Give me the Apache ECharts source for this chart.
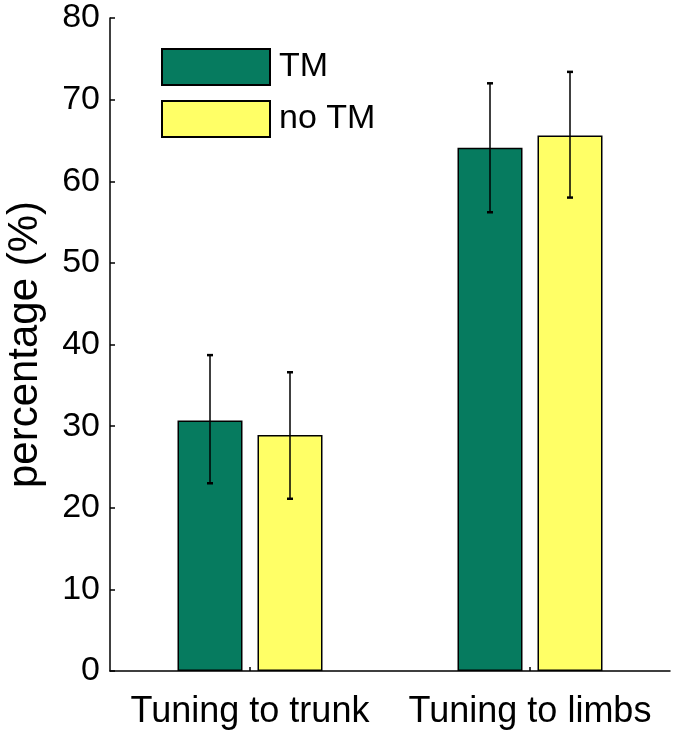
<!DOCTYPE html>
<html>
<head>
<meta charset="utf-8">
<script src="https://cdn.jsdelivr.net/npm/echarts@6/dist/echarts.min.js"></script>
<style>html,body{margin:0;padding:0;background:#fff}#c{width:675px;height:735px}</style>
</head>
<body>
<div id="c"></div>
<script>
// ---- data ----
var categories = ['Tuning to trunk', 'Tuning to limbs'];
var seriesNames = ['TM', 'no TM'];
var tmValues = [30.7, 64.1];
var noTmValues = [28.9, 65.6];
var tmLow = [23.0, 56.2];
var tmHigh = [38.7, 72.0];
var noTmLow = [21.1, 58.0];
var noTmHigh = [36.6, 73.4];
var yTicks = [0, 10, 20, 30, 40, 50, 60, 70, 80];

// ---- style ----
var FONT = 'Liberation Sans, Arial, sans-serif';
var GREEN = '#067b5f';
var YELLOW = '#ffff66';
var BAR_W = 65;
var BAR_GAP = 15;

function errSeries(low, high, sign) {
  var data = low.map(function (l, i) { return [i, l, high[i]]; });
  return {
    type: 'custom',
    data: data,
    encode: { x: 0, y: [1, 2] },
    z: 5,
    silent: true,
    renderItem: function (params, api) {
      var off = sign * (BAR_W + BAR_GAP) / 2;
      var pLow = api.coord([api.value(0), api.value(1)]);
      var pHigh = api.coord([api.value(0), api.value(2)]);
      var x = pLow[0] + off;
      var cap = 3;
      var st = { stroke: '#000', lineWidth: 1.5 };
      return {
        type: 'group',
        children: [
          { type: 'line', shape: { x1: x, y1: pLow[1], x2: x, y2: pHigh[1] }, style: st },
          { type: 'line', shape: { x1: x - cap, y1: pLow[1], x2: x + cap, y2: pLow[1] }, style: { stroke: '#000', lineWidth: 2.5 } },
          { type: 'line', shape: { x1: x - cap, y1: pHigh[1], x2: x + cap, y2: pHigh[1] }, style: { stroke: '#000', lineWidth: 2.5 } }
        ]
      };
    }
  };
}

var chart = echarts.init(document.getElementById('c'), null, { renderer: 'canvas' });
chart.setOption({
  backgroundColor: '#fff',
  animation: false,
  textStyle: { fontFamily: FONT },
  grid: { left: 110, right: 5, top: 18, bottom: 64, containLabel: false, outerBoundsMode: 'none' },
  legend: {
    data: seriesNames,
    orient: 'vertical',
    left: 161,
    top: 48,
    padding: 0,
    itemWidth: 108,
    itemHeight: 36,
    itemGap: 14,
    icon: 'rect',
    textStyle: { fontSize: 34, color: '#000', fontFamily: FONT, padding: [0, 0, 0, 4] }
  },
  xAxis: {
    type: 'category',
    data: categories,
    axisLine: { lineStyle: { color: '#000', width: 1.5 } },
    axisTick: { show: true, inside: true, length: 4, alignWithLabel: true, lineStyle: { color: '#000', width: 1.5 } },
    axisLabel: { fontSize: 36, color: '#000', fontFamily: FONT, margin: 23, interval: 0 },
    splitLine: { show: false }
  },
  yAxis: {
    type: 'value',
    min: yTicks[0],
    max: yTicks[yTicks.length - 1],
    interval: yTicks[1] - yTicks[0],
    name: 'percentage (%)',
    nameLocation: 'middle',
    nameGap: 64,
    nameTextStyle: { fontSize: 42, color: '#000', fontFamily: FONT },
    axisLine: { show: true, lineStyle: { color: '#000', width: 1.5 } },
    axisTick: { show: true, inside: true, length: 5, lineStyle: { color: '#000', width: 1.5 } },
    axisLabel: { fontSize: 34, color: '#000', fontFamily: FONT, margin: 10 },
    splitLine: { show: false }
  },
  series: [
    {
      name: seriesNames[0], type: 'bar', data: tmValues,
      barWidth: BAR_W, barGap: (BAR_GAP / BAR_W * 100) + '%',
      itemStyle: { color: GREEN, borderColor: '#000', borderWidth: 1.5 }
    },
    {
      name: seriesNames[1], type: 'bar', data: noTmValues,
      barWidth: BAR_W, barGap: (BAR_GAP / BAR_W * 100) + '%',
      itemStyle: { color: YELLOW, borderColor: '#000', borderWidth: 1.5 }
    },
    errSeries(tmLow, tmHigh, -1),
    errSeries(noTmLow, noTmHigh, 1)
  ]
});
</script>
</body>
</html>
